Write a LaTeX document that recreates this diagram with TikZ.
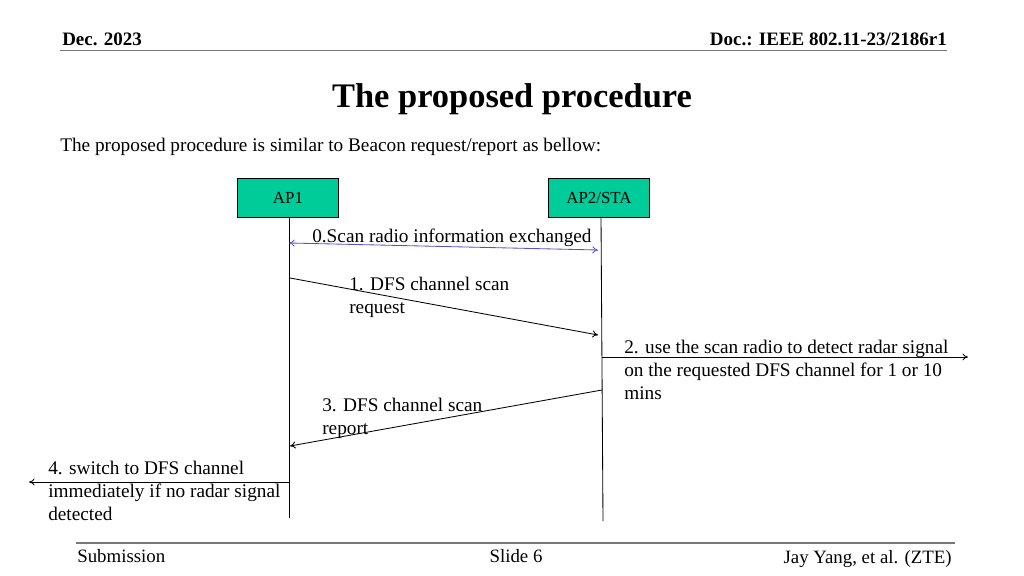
\documentclass[tikz,border=0pt]{standalone}
\usepackage{fontspec}
\setmainfont{Liberation Serif}
\usetikzlibrary{arrows.meta}
\definecolor{boxgreen}{RGB}{0,204,153}
\definecolor{msgblue}{RGB}{90,80,200}
\definecolor{rulegray}{RGB}{120,120,120}
\begin{document}
\begin{tikzpicture}[x=0.025cm,y=-0.025cm,
  entity/.style={draw=black,fill=boxgreen,minimum width=101*0.025cm,minimum height=39*0.025cm,inner sep=0pt,font=\fontsize{12}{14}\selectfont},
  lifeline/.style={draw=black,line width=0.6pt},
  msg/.style={draw=black,line width=0.6pt,-{To[length=4pt,width=5pt]}},
  lbl/.style={inner sep=0pt,align=left,anchor=north west,font=\fontsize{13.7}{16.3}\selectfont},
  hdr/.style={inner sep=0pt,font=\bfseries\fontsize{13.5}{16}\selectfont},
  ftr/.style={inner sep=0pt,font=\fontsize{13.4}{16}\selectfont},
  sep/.style={draw=rulegray,line width=1.4pt}]
\useasboundingbox (0,0) rectangle (1024,576);
% header
\node[hdr,anchor=base west] (date) at (62,45.5) {Dec. 2023};
\node[hdr,anchor=base east] (doc) at (947,46) {Doc.: IEEE 802.11-23/2186r1};
\coordinate (hl) at (60,50.5); \coordinate (hr) at (947,50.5);
\draw[sep] (hl) -- (hr);
% title
\node[inner sep=0pt,font=\bfseries\fontsize{24.5}{28}\selectfont] (title) at (512,99) {The proposed procedure};
\node[inner sep=0pt,anchor=west,font=\fontsize{13.7}{16}\selectfont] (intro) at (60,147) {The proposed procedure is similar to Beacon request/report as bellow:};
% entities
\node[entity] (ap1) at (288,197.5) {AP1};
\node[entity] (ap2) at (599,197.5) {AP2/STA};
\coordinate (l1b) at (289,518);
\coordinate (l2t) at (601,217);
\coordinate (l2b) at (603,521);
\draw[lifeline] (ap1.south -| l1b) -- (l1b);
\draw[lifeline] (l2t) -- (l2b);
% message 0
\coordinate (m0a) at (289,243); \coordinate (m0b) at (598,250);
\draw[draw=msgblue,line width=0.6pt,{To[length=4pt,width=5pt]}-{To[length=4pt,width=5pt]}] (m0a) -- (m0b);
\node[lbl] (t0) at (312,229) {0.Scan radio information exchanged};
% message 1
\coordinate (m1a) at (290,278); \coordinate (m1b) at (598,335);
\draw[msg] (m1a) -- (m1b);
\node[lbl] (t1) at (349,277) {1. DFS channel scan\\request};
% message 2
\coordinate (m2a) at (602,357); \coordinate (m2b) at (968,357);
\draw[msg] (m2a) -- (m2b);
\node[lbl] (t2) at (624,340) {2. use the scan radio to detect radar signal\\on the requested DFS channel for 1 or 10\\mins};
% message 3
\coordinate (m3a) at (602,390); \coordinate (m3b) at (290,446);
\draw[msg] (m3a) -- (m3b);
\node[lbl] (t3) at (322,398) {3. DFS channel scan\\report};
% message 4
\coordinate (m4a) at (289,482); \coordinate (m4b) at (29,482);
\draw[msg] (m4a) -- (m4b);
\node[lbl] (t4) at (48,461) {4. switch to DFS channel\\immediately if no radar signal\\detected};
% footer
\coordinate (fl) at (76,543); \coordinate (fr) at (955,543);
\draw[sep] (fl) -- (fr);
\node[ftr,anchor=base west] (sub) at (77,562) {Submission};
\node[ftr,anchor=base] (slide) at (516,562) {Slide 6};
\node[ftr,anchor=base east] (auth) at (952,563) {Jay Yang, et al. (ZTE)};
\end{tikzpicture}
\end{document}
